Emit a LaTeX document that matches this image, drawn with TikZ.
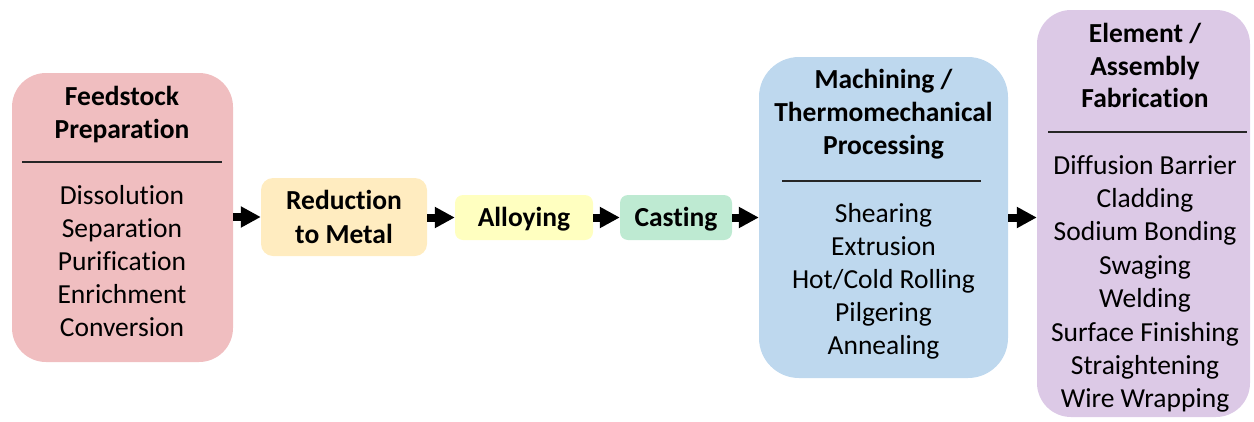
\documentclass[tikz,border=0pt]{standalone}
\usepackage{fontspec}
\setmainfont{Carlito}[Ligatures=NoCommon]
\usetikzlibrary{arrows.meta}
\definecolor{cpink}{RGB}{240,190,192}
\definecolor{corange}{RGB}{255,236,192}
\definecolor{cyellow}{RGB}{255,255,192}
\definecolor{cgreen}{RGB}{190,234,210}
\definecolor{cblue}{RGB}{190,216,238}
\definecolor{cviolet}{RGB}{220,201,230}
\begin{document}
\begin{tikzpicture}[x=1pt,y=-1pt,
  box/.style={draw=none,inner sep=0pt,minimum width=#1},
  ttl/.style={anchor=base,font=\fontsize{27.5}{33}\selectfont\bfseries,inner sep=0pt},
  itm/.style={anchor=base,font=\fontsize{27.5}{33}\selectfont,inner sep=0pt},
  rulel/.style={line width=2.4pt,black!85},
  arr/.style={line width=8pt,-{Triangle[length=20pt,width=20pt]}}]
\useasboundingbox (0,0) rectangle (1254,421);
% boxes
\node[box=221pt,minimum height=289pt,fill=cpink,rounded corners=34pt] (feed) at (122.5,217.5) {};
\node[box=166pt,minimum height=78pt,fill=corange,rounded corners=12pt] (red) at (344,217) {};
\node[box=138pt,minimum height=45pt,fill=cyellow,rounded corners=8pt] (allo) at (524,217.5) {};
\node[box=112pt,minimum height=45pt,fill=cgreen,rounded corners=8pt] (cast) at (676,217.5) {};
\node[box=249pt,minimum height=321pt,fill=cblue,rounded corners=40pt] (mach) at (883.5,217.5) {};
\node[box=213pt,minimum height=407pt,fill=cviolet,rounded corners=34pt] (elem) at (1143.5,213.5) {};
% feedstock text
\node[ttl] (f-t1) at (122,105) {Feedstock};
\node[ttl] (f-t2) at (122,138) {Preparation};
\draw[rulel] (22,162) -- (222,162);
\foreach \t [count=\i from 0] in {Dissolution,Separation,Purification,Enrichment,Conversion}
  \node[itm] (f-\i) at (122,{204+33*\i}) {\t};
% small boxes
\node[ttl] (r-t1) at (344,209) {Reduction};
\node[ttl] (r-t2) at (344,243) {to Metal};
\node[ttl] (a-t) at (524,226) {Alloying};
\node[ttl] (c-t) at (676,226) {Casting};
% machining
\node[ttl] (m-t1) at (883.5,88) {Machining /};
\node[ttl] (m-t2) at (883.5,121) {Thermomechanical};
\node[ttl] (m-t3) at (883.5,154) {Processing};
\draw[rulel] (782,181) -- (981,181);
\foreach \t [count=\i from 0] in {Shearing,Extrusion,Hot/Cold Rolling,Pilgering,Annealing}
  \node[itm] (m-\i) at (883.5,{222+33*\i}) {\t};
% element
\node[ttl] (e-t1) at (1145,42) {Element /};
\node[ttl] (e-t2) at (1145,75) {Assembly};
\node[ttl] (e-t3) at (1145,107) {Fabrication};
\draw[rulel] (1048,132) -- (1247,132);
\foreach \t [count=\i from 0] in {Diffusion Barrier,Cladding,Sodium Bonding,Swaging,Welding,Surface Finishing,Straightening,Wire Wrapping}
  \node[itm] (e-\i) at (1145,{174+33.4*\i}) {\t};
% arrows
\draw[arr] (feed.east |- red.west) -- (red.west);
\draw[arr] (red.east |- allo.west) -- (allo.west);
\draw[arr] (allo.east) -- (cast.west);
\draw[arr] (cast.east) -- (cast.east -| mach.west);
\draw[arr] (mach.east) -- (mach.east -| elem.west);
\end{tikzpicture}
\end{document}
